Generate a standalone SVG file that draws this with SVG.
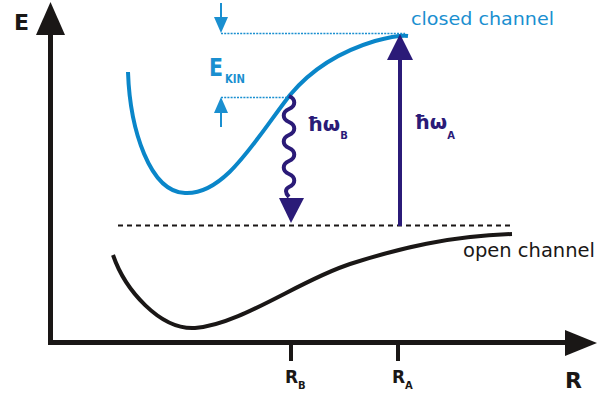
<svg xmlns="http://www.w3.org/2000/svg" width="597" height="394" viewBox="0 0 597 394">
<style>
.ax{stroke:#1a1716;stroke-width:5;fill:none}
.blk{fill:#1a1716}
.lbl{font-family:"DejaVu Sans","Liberation Sans",sans-serif;font-weight:bold}
.blue{fill:#1a8fd0}
.navy{fill:#2b1b78}
.nav{stroke:#2b1b78;stroke-width:4;fill:none}
.dot{stroke:#1a8fd0;stroke-width:1.3;stroke-dasharray:2 1.2;fill:none}
.txt{font-family:"DejaVu Sans","Liberation Sans",sans-serif}
</style>
<rect width="597" height="394" fill="#fff"/>
<g id="axes">
  <path class="ax" d="M50.5,32 V342.5 H568"/>
  <polygon class="blk" points="50.5,2 36,35 65,35"/>
  <polygon class="blk" points="597,343 565,330 565,356"/>
  <path class="ax" d="M291,343 V361 M398,343 V361" style="stroke-width:4"/>
  <text class="lbl blk" x="14" y="30" font-size="22">E</text>
  <text class="lbl blk" x="565" y="388" font-size="22">R</text>
  <text class="lbl blk" x="285" y="383" font-size="17">R<tspan font-size="10" dy="6">B</tspan></text>
  <text class="lbl blk" x="392" y="383" font-size="17">R<tspan font-size="10" dy="6">A</tspan></text>
</g>
<g id="closed-channel">
  <path d="M128,72 C130,130 150,192 185,193 C225,195 255,140 290,95 C315,65 345,50 375,41 C390,37 400,35 408,36" stroke="#0a86c9" stroke-width="4" fill="none"/>
  <text class="txt blue" x="411" y="25" font-size="18" textLength="143" lengthAdjust="spacingAndGlyphs">closed channel</text>
</g>
<g id="open-channel">
  <path d="M113,255 C125,290 160,330 195,328 C240,325 300,280 350,264 C400,248 450,236 512,234" stroke="#1a1716" stroke-width="4" fill="none"/>
  <text class="txt blk" x="463" y="257" font-size="19" textLength="132" lengthAdjust="spacingAndGlyphs">open channel</text>
</g>
<g id="threshold">
  <path d="M118,225.5 H512" stroke="#1a1716" stroke-width="2" stroke-dasharray="5 4" fill="none"/>
</g>
<g id="ekin">
  <path class="dot" d="M221,33.5 H405 M221,97.5 H288"/>
  <path d="M221,3 V20 M221,110 V127" stroke="#1a8fd0" stroke-width="2" fill="none"/>
  <polygon class="blue" points="221,33 214,17 228,17"/>
  <polygon class="blue" points="221,97 214,113 228,113"/>
  <text class="lbl blue" x="209" y="76" font-size="24" textLength="14" lengthAdjust="spacingAndGlyphs">E</text>
  <text class="lbl blue" x="225" y="83" font-size="12" textLength="20" lengthAdjust="spacingAndGlyphs">KIN</text>
</g>
<g id="connectors">
  <path class="nav" d="M289,96 c7,3 7,10 0,13 c-7,3 -7,10 0,13 c7,3 7,10 0,13 c-7,3 -7,10 0,13 c7,3 7,10 0,13 c-7,3 -7,10 0,13 c7,3 7,10 0,13 c-4,2 -4,6 0,10"/>
  <polygon class="navy" points="291,223 279,198 304,198"/>
  <path class="nav" d="M400,226 V58"/>
  <polygon class="navy" points="400,34 387,60 413,60"/>
</g>
<g id="labels">
  <text class="lbl navy" x="307" y="131" font-size="20">ħω<tspan font-size="10" dy="8">B</tspan></text>
  <text class="lbl navy" x="414" y="129" font-size="20">ħω<tspan font-size="10" dy="10">A</tspan></text>
</g>
</svg>
